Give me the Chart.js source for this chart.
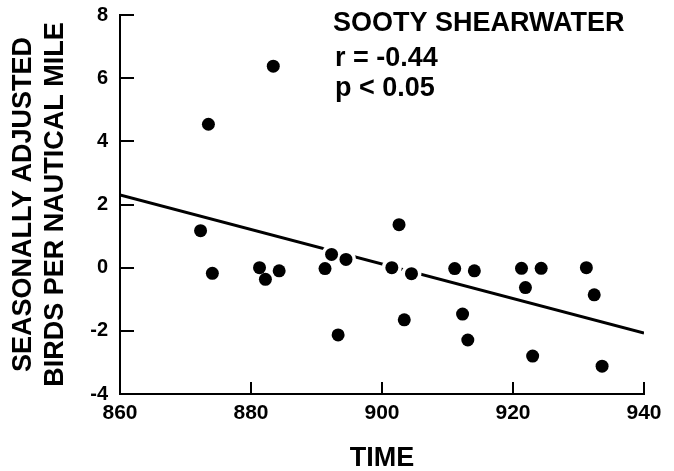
<!DOCTYPE html>
<html>
<head>
<meta charset="utf-8">
<script src="https://cdn.jsdelivr.net/npm/chart.js@4.4.0/dist/chart.umd.min.js"></script>
<style>body{margin:0;background:#fff}</style>
</head>
<body>
<canvas id="myChart" width="674" height="471"></canvas>
<script>
// sooty shearwater - seasonally adjusted birds vs time
var timeVals = [873.5, 883.4, 872.3, 874.1, 881.3, 882.2, 884.3, 891.3, 892.3, 894.5, 893.3, 901.5, 902.6, 904.5, 903.4, 911.1, 914.1, 912.3, 913.1, 921.3, 924.3, 921.9, 923.0, 931.2, 932.4, 933.6];
var birdVals = [4.54, 6.38, 1.17, -0.18, 0.0, -0.37, -0.1, -0.03, 0.42, 0.26, -2.13, 0.0, 1.36, -0.19, -1.65, -0.03, -0.1, -1.47, -2.29, -0.02, -0.02, -0.63, -2.80, 0.0, -0.86, -3.12];
var fitX = [860, 940];
var fitY = [2.3, -2.07];
var xTicks = [860, 880, 900, 920, 940];
var yTicks = [-4, -2, 0, 2, 4, 6, 8];
var notes = ["SOOTY SHEARWATER", "r = -0.44", "p < 0.05"];

var pts = timeVals.map(function(t, i) { return {x: t, y: birdVals[i]}; });
var fit = fitX.map(function(t, i) { return {x: t, y: fitY[i]}; });

var FONT = "'Liberation Sans', Arial, sans-serif";

// tick marks pointing inside + text in the upper right corner
var extrasPlugin = {
  id: 'extras',
  afterDraw: function(chart) {
    var c = chart.ctx, a = chart.chartArea;
    var xs = chart.scales.x, ys = chart.scales.y;
    c.save();
    c.strokeStyle = '#000';
    c.lineWidth = 2;
    c.beginPath();
    xTicks.forEach(function(v) {
      var px = Math.round(xs.getPixelForValue(v));
      c.moveTo(px, a.bottom);
      c.lineTo(px, a.bottom - 12);
    });
    yTicks.forEach(function(v) {
      var py = Math.round(ys.getPixelForValue(v));
      c.moveTo(a.left, py);
      c.lineTo(a.left + 14, py);
    });
    c.stroke();

    c.fillStyle = '#000';
    c.font = 'bold 27px ' + FONT;
    c.textAlign = 'left';
    c.textBaseline = 'alphabetic';
    c.fillText(notes[0], a.left + 213, a.top + 16);
    c.fillText(notes[1], a.left + 215, a.top + 51);
    c.fillText(notes[2], a.left + 215, a.top + 81);
    c.restore();
  }
};

function noPad(s) {
  s.paddingTop = 0; s.paddingBottom = 0; s.paddingLeft = 0; s.paddingRight = 0;
}

var ctx = document.getElementById('myChart').getContext('2d');
var myChart = new Chart(ctx, {
  type: 'scatter',
  data: {
    datasets: [{
      label: 'birds',
      data: pts,
      backgroundColor: '#000',
      borderColor: '#000',
      pointRadius: 6.5,
      borderWidth: 0,
      order: 0
    }, {
      label: 'halo',
      data: pts,
      backgroundColor: '#fff',
      borderColor: '#fff',
      pointRadius: 10,
      borderWidth: 0,
      order: 1
    }, {
      type: 'line',
      label: 'fit',
      data: fit,
      borderColor: '#000',
      borderWidth: 3,
      pointRadius: 0,
      fill: false,
      order: 2
    }]
  },
  options: {
    responsive: false,
    animation: false,
    layout: { padding: { top: 15, right: 30, left: 0, bottom: 0 } },
    plugins: { legend: { display: false }, tooltip: { enabled: false } },
    scales: {
      x: {
        type: 'linear',
        min: 860, max: 940,
        afterBuildTicks: function(s) { s.ticks = xTicks.map(function(v) { return {value: v}; }); },
        afterFit: function(s) { s.height = 77; noPad(s); },
        grid: { drawOnChartArea: false, drawTicks: false },
        border: { display: true, color: '#000', width: 2 },
        ticks: { color: '#000', padding: 7, maxRotation: 0, font: { family: FONT, size: 21, weight: 'bold' } },
        title: { display: true, text: 'TIME', color: '#000', padding: 0, font: { family: FONT, size: 27, weight: 'bold', lineHeight: 0.9 } }
      },
      y: {
        type: 'linear',
        min: -4, max: 8,
        afterBuildTicks: function(s) { s.ticks = yTicks.map(function(v) { return {value: v}; }); },
        afterFit: function(s) { s.width = 120; noPad(s); },
        grid: { drawOnChartArea: false, drawTicks: false },
        border: { display: true, color: '#000', width: 2 },
        ticks: { color: '#000', padding: 12, font: { family: FONT, size: 20, weight: 'bold' } },
        title: { display: true, text: ['SEASONALLY ADJUSTED', 'BIRDS PER NAUTICAL MILE'], color: '#000', padding: { top: 8, bottom: 0 }, font: { family: FONT, size: 27, weight: 'bold', lineHeight: 1.185 } }
      }
    }
  },
  plugins: [extrasPlugin]
});
</script>
</body>
</html>
